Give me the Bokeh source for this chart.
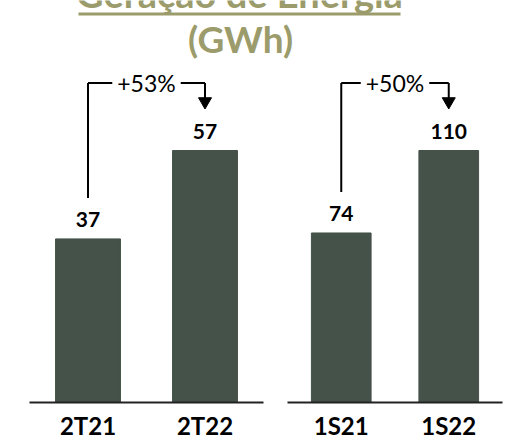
from bokeh.plotting import figure
from bokeh.layouts import column, row
from bokeh.models import ColumnDataSource, FactorRange, Range1d
from bokeh.transform import dodge
from bokeh.core.properties import value
from bokeh.embed import file_html
from bokeh.resources import INLINE

# ---- data ----
title_text = "Geração de Energia"
unit_text = "(GWh)"
left_categories = ["2T21", "2T22"]
left_values = [37, 57]
left_growth = "+53%"
right_categories = ["1S21", "1S22"]
right_values = [74, 110]
right_growth = "+50%"

# ---- style ----
BAR_COLOR = "#455249"
TITLE_COLOR = "#9b9b6b"
FONT = "Lato"
FRAME_H = 342
HEADROOM = 342 / 252.0


def panel(cats, vals, growth, fw, bl, br):
    y_end = max(vals) * HEADROOM
    s = FRAME_H / y_end  # px per unit
    p = figure(x_range=FactorRange(factors=cats, range_padding=0, factor_padding=0),
               y_range=Range1d(0, y_end), frame_width=fw, frame_height=FRAME_H,
               output_backend="svg", toolbar_location=None, y_axis_location=None,
               min_border_left=bl, min_border_right=br, min_border_top=0,
               min_border_bottom=0)
    p.outline_line_color = None
    p.grid.visible = False
    ax = p.xaxis[0]
    ax.axis_line_width = 2
    ax.axis_line_color = "#222222"
    ax.major_tick_line_color = None
    ax.minor_tick_line_color = None
    ax.major_tick_out = 0
    ax.major_tick_in = 0
    ax.major_label_text_font = FONT
    ax.major_label_text_font_style = "bold"
    ax.major_label_text_font_size = "24px"
    ax.major_label_text_color = "black"
    ax.major_label_text_line_height = 1.0
    ax.major_label_standoff = 8

    p.vbar(x=cats, top=vals, width=0.555, color=BAR_COLOR)
    p.text(x=cats, y=vals, text=[str(v) for v in vals], text_align="center",
           text_baseline="middle", y_offset=-19, text_font=value(FONT),
           text_font_style="bold", text_font_size="21px", text_color="black")

    y_low = vals[0] + 41 / s
    y_top = vals[1] + 67.5 / s
    head_y = vals[1] + (41.5 + 7.5) / s
    p.segment(x0=[cats[0], cats[0], cats[1]], y0=[y_low, y_top, y_top],
              x1=[cats[0], cats[1], cats[1]], y1=[y_top, y_top, head_y],
              line_width=2, color="black")
    p.scatter(x=[cats[1]], y=[head_y], marker="inverted_triangle", size=13,
              color="black")
    src = ColumnDataSource(dict(x=[cats[0]], y=[y_top], t=[growth]))
    p.text(x=dodge("x", 0.5, range=p.x_range), y="y", text="t", source=src,
           text_align="center", text_baseline="middle", text_font=value(FONT),
           text_font_size="23px", text_color="black",
           background_fill_color="white", padding=5)
    return p


# title strip (ranges in canvas pixels)
tf = figure(width=504, height=60, x_range=Range1d(0, 504), y_range=Range1d(60, 0),
            output_backend="svg", toolbar_location=None,
            x_axis_location=None, y_axis_location=None,
            min_border_left=0, min_border_right=0, min_border_top=0, min_border_bottom=0)
tf.outline_line_color = None
tf.grid.visible = False
tf.text(x=[239], y=[-8], text=[title_text], text_align="center", text_baseline="middle",
        text_font=value(FONT), text_font_style="bold", text_font_size="38px",
        text_color=TITLE_COLOR)
tf.segment(x0=[78], y0=[13.5], x1=[400], y1=[13.5], line_width=3, color=TITLE_COLOR)
tf.text(x=[240], y=[38], text=[unit_text], text_align="center", text_baseline="middle",
        text_font=value(FONT), text_font_style="bold", text_font_size="37px",
        text_color=TITLE_COLOR)

left = panel(left_categories, left_values, left_growth, 234, 29, 12)
right = panel(right_categories, right_values, right_growth, 215, 12, 2)

layout = column(tf, row(left, right))

open("out.html", "w").write(file_html(layout, INLINE))
